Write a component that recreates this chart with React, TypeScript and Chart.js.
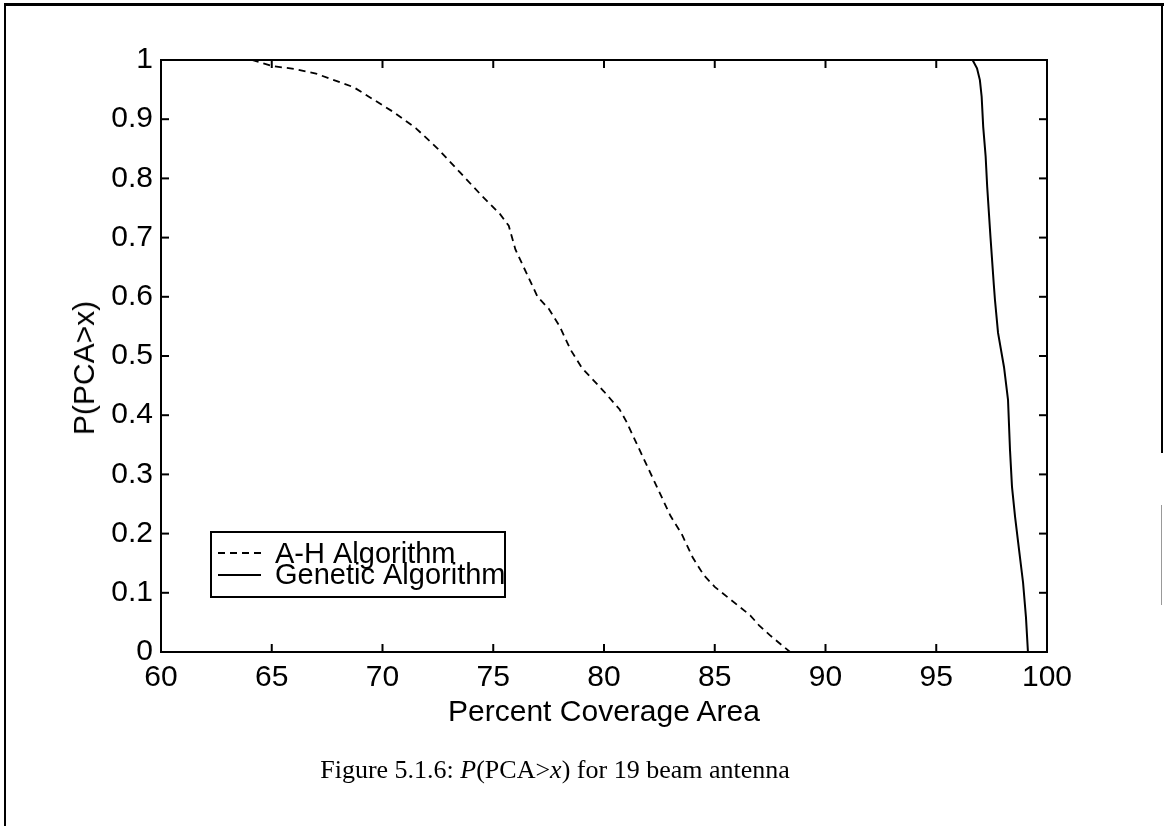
import React, { useEffect, useRef } from "react";
import { Chart, registerables } from "chart.js";

Chart.register(...registerables);

// ---- data ----
const seriesNames = ["A-H Algorithm", "Genetic Algorithm"];

const ahX = [64.1, 65, 66, 67, 68.7, 70.5, 71.5, 72.5, 73.5, 74.5, 75.3, 75.7, 76, 76.5, 77, 77.5, 78, 78.5, 79, 80, 80.7, 81, 81.5, 82, 82.5, 83, 83.5, 84, 84.5, 85, 86, 86.6, 87, 87.5, 88.4];
const ahY = [1.0, 0.99, 0.985, 0.977, 0.954, 0.912, 0.885, 0.85, 0.81, 0.77, 0.74, 0.72, 0.68, 0.64, 0.6, 0.58, 0.55, 0.51, 0.48, 0.44, 0.41, 0.39, 0.35, 0.31, 0.27, 0.23, 0.2, 0.16, 0.13, 0.11, 0.08, 0.062, 0.045, 0.028, 0.0];

const gaX = [96.64, 96.84, 96.97, 97.05, 97.12, 97.23, 97.3, 97.45, 97.6, 97.65, 97.79, 98.06, 98.24, 98.33, 98.42, 98.56, 98.74, 98.92, 99.05, 99.14];
const gaY = [1.0, 0.986, 0.966, 0.938, 0.887, 0.837, 0.786, 0.7, 0.62, 0.595, 0.539, 0.481, 0.426, 0.341, 0.279, 0.228, 0.172, 0.117, 0.059, 0.0];

const xTicks = [60, 65, 70, 75, 80, 85, 90, 95, 100];
const yTicks = [0, 0.1, 0.2, 0.3, 0.4, 0.5, 0.6, 0.7, 0.8, 0.9, 1];

const xTitle = "Percent Coverage Area";
const yTitle = "P(PCA>x)";

const FONT = "'Liberation Sans', Arial, Helvetica, sans-serif";
const SERIF = "'Liberation Serif', 'Times New Roman', serif";

const matlabAxes = {
  id: "matlabAxes",
  afterDatasetsDraw(chart: any) {
    const { ctx, chartArea: a, scales } = chart;
    ctx.save();
    ctx.strokeStyle = "#000";
    ctx.lineWidth = 2;
    ctx.strokeRect(a.left, a.top, a.right - a.left, a.bottom - a.top);
    const tl = 8;
    const seg = (x1: number, y1: number, x2: number, y2: number) => {
      ctx.beginPath();
      ctx.moveTo(x1, y1);
      ctx.lineTo(x2, y2);
      ctx.stroke();
    };
    xTicks.forEach((v) => {
      const px = scales.x.getPixelForValue(v);
      seg(px, a.bottom, px, a.bottom - tl);
      seg(px, a.top, px, a.top + tl);
    });
    yTicks.forEach((v) => {
      const py = scales.y.getPixelForValue(v);
      seg(a.left, py, a.left + tl, py);
      seg(a.right, py, a.right - tl, py);
    });

    // legend box
    const lb = { left: 211, top: 532, right: 505, bottom: 597 };
    ctx.lineWidth = 2;
    ctx.strokeRect(lb.left, lb.top, lb.right - lb.left, lb.bottom - lb.top);
    const lineRows = [553, 575];
    const textRows = [563, 584];
    chart.data.datasets.forEach((ds: any, i: number) => {
      ctx.save();
      ctx.lineWidth = ds.borderWidth;
      ctx.setLineDash(ds.borderDash || []);
      seg(218, lineRows[i], 261, lineRows[i]);
      ctx.restore();
      ctx.fillStyle = "#000";
      ctx.font = `29px ${FONT}`;
      ctx.textBaseline = "alphabetic";
      ctx.textAlign = "left";
      ctx.fillText(ds.label, 275, textRows[i]);
    });
    ctx.restore();
  },
};

export default function App() {
  const ref = useRef<HTMLCanvasElement | null>(null);

  useEffect(() => {
    document.body.style.margin = "0";
    const canvas = ref.current;
    if (!canvas) return;
    const chart = new Chart(canvas, {
      type: "scatter",
      data: {
        datasets: [
          {
            label: seriesNames[0],
            data: ahX.map((x, i) => ({ x, y: ahY[i] })),
            showLine: true,
            borderColor: "#000",
            backgroundColor: "#000",
            borderWidth: 1.8,
            borderDash: [7, 5],
            pointRadius: 0,
            tension: 0,
          },
          {
            label: seriesNames[1],
            data: gaX.map((x, i) => ({ x, y: gaY[i] })),
            showLine: true,
            borderColor: "#000",
            backgroundColor: "#000",
            borderWidth: 2,
            pointRadius: 0,
            tension: 0,
          },
        ],
      },
      options: {
        animation: false,
        responsive: false,
        maintainAspectRatio: false,
        layout: { padding: { left: 0, top: 60, right: 118, bottom: 0 } },
        plugins: {
          legend: { display: false },
          tooltip: { enabled: false },
          title: { display: false },
        },
        scales: {
          x: {
            type: "linear",
            min: 60,
            max: 100,
            afterFit: (s: any) => {
              s.height = 174;
            },
            afterBuildTicks: (s: any) => {
              s.ticks = xTicks.map((v) => ({ value: v }));
            },
            grid: { display: false, drawTicks: false },
            border: { display: false },
            ticks: {
              color: "#000",
              font: { family: FONT, size: 30 },
              padding: 8,
              maxRotation: 0,
              autoSkip: false,
              callback: (v: any) => String(v),
            },
          },
          y: {
            type: "linear",
            min: 0,
            max: 1,
            afterFit: (s: any) => {
              s.width = 161;
            },
            afterBuildTicks: (s: any) => {
              s.ticks = yTicks.map((v) => ({ value: v }));
            },
            grid: { display: false, drawTicks: false },
            border: { display: false },
            ticks: {
              color: "#000",
              font: { family: FONT, size: 30 },
              padding: 8,
              autoSkip: false,
              callback: (v: any) => String(Math.round(Number(v) * 10) / 10),
            },
          },
        },
      },
      plugins: [matlabAxes],
    });
    return () => chart.destroy();
  }, []);

  return (
    <div style={{ position: "fixed", left: 0, top: 0, width: 1165, height: 826, background: "#fff", overflow: "hidden" }}>
      {/* outer frame */}
      <div style={{ position: "absolute", left: 4, top: 3, width: 1160, height: 3, background: "#000" }} />
      <div style={{ position: "absolute", left: 4, top: 3, width: 2, height: 830, background: "#000" }} />
      <div style={{ position: "absolute", left: 1161, top: 3, width: 2, height: 450, background: "#000" }} />
      <div style={{ position: "absolute", left: 1161, top: 505, width: 1, height: 100, background: "#999" }} />
      <canvas ref={ref} width={1165} height={826} style={{ position: "absolute", left: 0, top: 0, width: 1165, height: 826 }} />
      <div
        style={{
          position: "absolute",
          left: 161,
          width: 886,
          top: 696,
          lineHeight: "30px",
          textAlign: "center",
          fontFamily: FONT,
          fontSize: 30,
          color: "#000",
          whiteSpace: "nowrap",
        }}
      >
        {xTitle}
      </div>
      <div
        style={{
          position: "absolute",
          left: 84,
          top: 368,
          lineHeight: "30px",
          transform: "translate(-50%, -50%) rotate(-90deg)",
          fontFamily: FONT,
          fontSize: 30,
          color: "#000",
          whiteSpace: "nowrap",
        }}
      >
        {yTitle}
      </div>
      <div
        style={{
          position: "absolute",
          left: 0,
          width: 1110,
          top: 757,
          lineHeight: "26px",
          textAlign: "center",
          fontFamily: SERIF,
          fontSize: 26,
          color: "#000",
          whiteSpace: "nowrap",
        }}
      >
        Figure 5.1.6: <i>P</i>(PCA&gt;<i>x</i>) for 19 beam antenna
      </div>
    </div>
  );
}
